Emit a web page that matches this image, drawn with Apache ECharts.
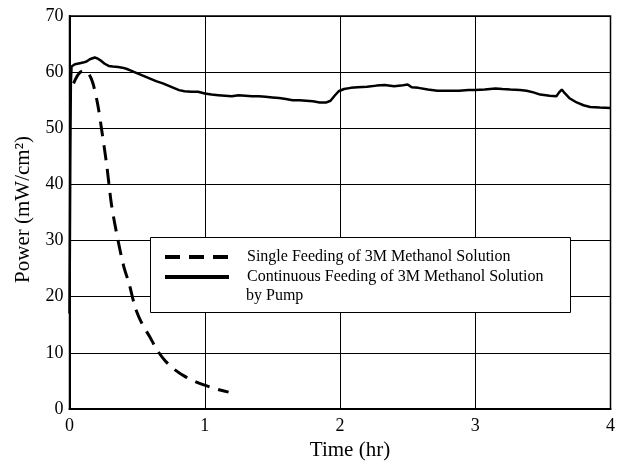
<!DOCTYPE html>
<html>
<head>
<meta charset="utf-8">
<script src="https://cdn.jsdelivr.net/npm/echarts@6/dist/echarts.min.js"></script>
<style>
html,body{margin:0;padding:0;background:#fff;}
#c{width:618px;height:468px;}
</style>
</head>
<body>
<div id="c"></div>
<script>
// Tick labels
var xTicks = [0, 1, 2, 3, 4];
var yTicks = [0, 10, 20, 30, 40, 50, 60, 70];

// Single feeding (dashed)
var singleTime = [0.03, 0.065, 0.099, 0.136, 0.172, 0.209, 0.238, 0.275, 0.311, 0.355, 0.399, 0.443, 0.487, 0.538, 0.590, 0.648, 0.707, 0.773, 0.846, 0.919, 0.993, 1.066, 1.176];
var singlePower = [58.0, 59.6, 60.2, 59.9, 58.1, 54.2, 49.7, 43.5, 36.3, 30.5, 25.6, 22.1, 18.0, 15.1, 13.0, 10.5, 8.6, 7.1, 5.9, 5.0, 4.3, 3.7, 3.0];

// Continuous feeding by pump (solid)
var contTime = [0.000, 0.003, 0.006, 0.010, 0.015, 0.04, 0.077, 0.10, 0.126, 0.15, 0.187, 0.21, 0.235, 0.26, 0.29, 0.32, 0.36, 0.39, 0.42, 0.45, 0.48, 0.52, 0.56, 0.60, 0.64, 0.69, 0.73, 0.77, 0.81, 0.85, 0.90, 0.95, 1.00, 1.05, 1.10, 1.15, 1.20, 1.25, 1.30, 1.35, 1.40, 1.45, 1.50, 1.55, 1.60, 1.65, 1.70, 1.75, 1.80, 1.85, 1.90, 1.93, 1.96, 1.99, 2.03, 2.08, 2.13, 2.20, 2.27, 2.33, 2.40, 2.45, 2.50, 2.53, 2.58, 2.65, 2.72, 2.80, 2.88, 2.95, 3.00, 3.07, 3.15, 3.20, 3.26, 3.33, 3.38, 3.43, 3.48, 3.55, 3.60, 3.62, 3.64, 3.66, 3.70, 3.75, 3.80, 3.85, 3.92, 4.00];
var contPower = [17.0, 30.0, 45.0, 58.0, 61.0, 61.4, 61.6, 61.7, 61.9, 62.3, 62.6, 62.4, 62.0, 61.5, 61.1, 61.0, 60.9, 60.8, 60.6, 60.3, 60.0, 59.6, 59.2, 58.8, 58.4, 58.0, 57.6, 57.2, 56.8, 56.6, 56.5, 56.5, 56.2, 56.0, 55.9, 55.8, 55.7, 55.9, 55.8, 55.7, 55.7, 55.6, 55.5, 55.4, 55.2, 55.0, 55.0, 54.9, 54.8, 54.6, 54.6, 54.9, 55.8, 56.6, 57.0, 57.2, 57.3, 57.4, 57.6, 57.7, 57.5, 57.6, 57.8, 57.3, 57.2, 56.9, 56.7, 56.7, 56.7, 56.8, 56.8, 56.9, 57.1, 57.0, 56.9, 56.8, 56.7, 56.4, 56.0, 55.8, 55.7, 56.4, 56.9, 56.3, 55.3, 54.6, 54.1, 53.8, 53.7, 53.6];

var seriesNames = ['Single Feeding of 3M Methanol Solution', 'Continuous Feeding of 3M Methanol Solution'];
var extraLegendLine = 'by Pump';

function pairs(xs, ys) { return xs.map(function (x, i) { return [x, ys[i]]; }); }

var FONT = '"Liberation Serif", "DejaVu Serif", serif';
var chart = echarts.init(document.getElementById('c'), null, {renderer: 'canvas'});
chart.setOption({
  animation: false,
  backgroundColor: '#fff',
  grid: {left: 69.5, right: 2.5, top: 16, bottom: 59, show: true, borderColor: '#000', borderWidth: 1.5},
  xAxis: {
    type: 'value', min: xTicks[0], max: xTicks[xTicks.length - 1], interval: 1,
    name: 'Time (hr)', nameLocation: 'middle', nameGap: 31,
    nameTextStyle: {fontFamily: FONT, fontSize: 21, color: '#000', padding: [0, 0, 0, 20]},
    axisLine: {show: true, onZero: false, lineStyle: {color: '#000', width: 2}},
    axisTick: {show: false},
    axisLabel: {fontFamily: FONT, fontSize: 18, color: '#000', margin: 8},
    splitLine: {show: true, lineStyle: {color: '#000', width: 1}}
  },
  yAxis: {
    type: 'value', min: yTicks[0], max: yTicks[yTicks.length - 1], interval: 10,
    name: 'Power (mW/cm\u00B2)', nameLocation: 'middle', nameGap: 36,
    nameTextStyle: {fontFamily: FONT, fontSize: 21, color: '#000', padding: [0, 0, 0, 6]},
    axisLine: {show: true, lineStyle: {color: '#000', width: 2}},
    axisTick: {show: false},
    axisLabel: {fontFamily: FONT, fontSize: 18, color: '#000', margin: 6},
    splitLine: {show: true, lineStyle: {color: '#000', width: 1}}
  },
  legend: {
    orient: 'vertical', left: 158, top: 244, z: 10,
    itemWidth: 64, itemHeight: 14, itemGap: 4,
    itemStyle: {opacity: 0},
    lineStyle: {width: 4},
    textStyle: {fontFamily: FONT, fontSize: 16, color: '#000', padding: [0, 0, 0, 13]},
    data: seriesNames
  },
  graphic: [
    {type: 'rect', z: 5, shape: {x: 150.5, y: 237.5, width: 420, height: 75}, style: {fill: '#fff', stroke: '#000', lineWidth: 1}},
    {type: 'text', z: 11, left: 246, top: 288, style: {text: extraLegendLine, font: '16px ' + FONT, fill: '#000'}}
  ],
  series: [
    {
      name: seriesNames[0], type: 'line', showSymbol: false, symbol: 'none', z: 3,
      data: pairs(singleTime, singlePower),
      smooth: 0.3,
      lineStyle: {color: '#000', width: 3, type: [15, 9]},
      itemStyle: {color: '#000'}
    },
    {
      name: seriesNames[1], type: 'line', showSymbol: false, symbol: 'none', z: 3,
      data: pairs(contTime, contPower),
      lineStyle: {color: '#000', width: 2.5},
      itemStyle: {color: '#000'}
    }
  ]
});
</script>
</body>
</html>
